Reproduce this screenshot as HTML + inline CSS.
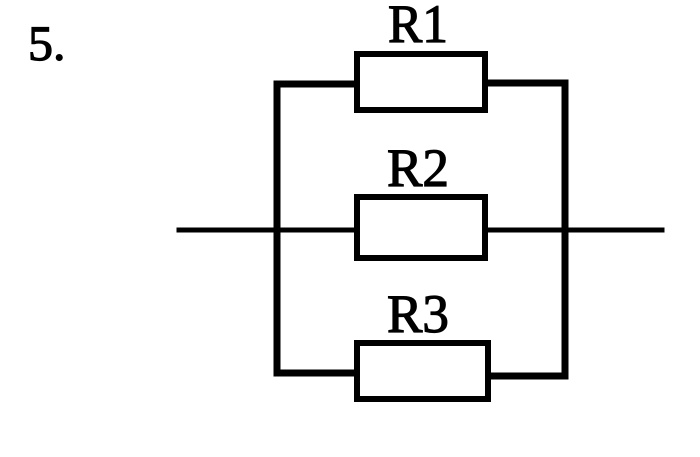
<!DOCTYPE html>
<html><head><style>
html,body{margin:0;padding:0;background:#fff;}
</style></head><body>
<svg width="700" height="452" viewBox="0 0 700 452" xmlns="http://www.w3.org/2000/svg">
<rect width="700" height="452" fill="#fff"/>
<g stroke="#000" fill="none" stroke-linecap="square">
<line x1="179" y1="230" x2="662" y2="230" stroke-width="5"/>
<line x1="277" y1="84" x2="277" y2="373" stroke-width="7"/>
<line x1="565" y1="83" x2="565" y2="376" stroke-width="7"/>
<line x1="277" y1="84" x2="357" y2="84" stroke-width="7"/>
<line x1="488" y1="83" x2="565" y2="83" stroke-width="7"/>
<line x1="277" y1="373" x2="357" y2="373" stroke-width="7"/>
<line x1="490" y1="376" x2="565" y2="376" stroke-width="7"/>
<rect x="357" y="54" width="128" height="56" fill="#fff" stroke-width="6"/>
<rect x="357" y="197" width="128" height="61" fill="#fff" stroke-width="6"/>
<rect x="357" y="343" width="131" height="56" fill="#fff" stroke-width="6"/>
</g>
<g font-family="Liberation Serif, serif" font-size="54" fill="#000" stroke="#000" stroke-width="1.2" text-anchor="middle">
<text x="418" y="42" textLength="60" lengthAdjust="spacingAndGlyphs">R1</text>
<text x="418" y="186" textLength="62" lengthAdjust="spacingAndGlyphs">R2</text>
<text x="418" y="332" textLength="62" lengthAdjust="spacingAndGlyphs">R3</text>
</g>
<text x="28" y="60" font-family="Liberation Serif, serif" font-size="50" fill="#000" stroke="#000" stroke-width="1.2">5.</text>
</svg>
</body></html>
